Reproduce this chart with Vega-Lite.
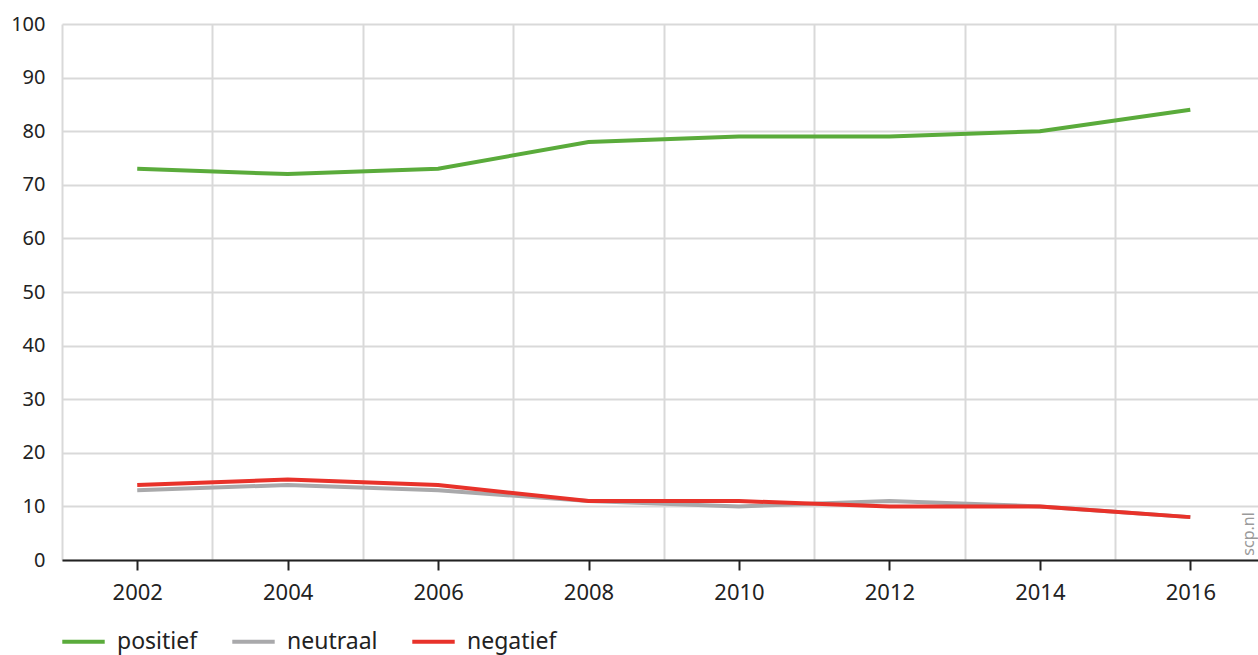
{
  "$schema": "https://vega.github.io/schema/vega-lite/v6.json",
  "width": 1196,
  "height": 536,
  "autosize": {"type": "none"},
  "padding": {"left": 62, "top": 24, "right": 0, "bottom": 95},
  "background": "white",
  "config": {
    "view": {"stroke": null},
    "font": "Noto Sans",
    "axis": {"labelFont": "Noto Sans", "labelColor": "#222222", "labelFontSize": 20}
  },
  "datasets": {
    "main": [
      {"jaar": 2002, "reeks": "positief", "waarde": 73},
      {"jaar": 2004, "reeks": "positief", "waarde": 72},
      {"jaar": 2006, "reeks": "positief", "waarde": 73},
      {"jaar": 2008, "reeks": "positief", "waarde": 78},
      {"jaar": 2010, "reeks": "positief", "waarde": 79},
      {"jaar": 2012, "reeks": "positief", "waarde": 79},
      {"jaar": 2014, "reeks": "positief", "waarde": 80},
      {"jaar": 2016, "reeks": "positief", "waarde": 84},
      {"jaar": 2002, "reeks": "neutraal", "waarde": 13},
      {"jaar": 2004, "reeks": "neutraal", "waarde": 14},
      {"jaar": 2006, "reeks": "neutraal", "waarde": 13},
      {"jaar": 2008, "reeks": "neutraal", "waarde": 11},
      {"jaar": 2010, "reeks": "neutraal", "waarde": 10},
      {"jaar": 2012, "reeks": "neutraal", "waarde": 11},
      {"jaar": 2014, "reeks": "neutraal", "waarde": 10},
      {"jaar": 2016, "reeks": "neutraal", "waarde": 8},
      {"jaar": 2002, "reeks": "negatief", "waarde": 14},
      {"jaar": 2004, "reeks": "negatief", "waarde": 15},
      {"jaar": 2006, "reeks": "negatief", "waarde": 14},
      {"jaar": 2008, "reeks": "negatief", "waarde": 11},
      {"jaar": 2010, "reeks": "negatief", "waarde": 11},
      {"jaar": 2012, "reeks": "negatief", "waarde": 10},
      {"jaar": 2014, "reeks": "negatief", "waarde": 10},
      {"jaar": 2016, "reeks": "negatief", "waarde": 8}
    ],
    "bron": [{"jaar": 2016.78, "waarde": 0.8, "tekst": "scp.nl"}]
  },
  "layer": [
    {
      "data": {"name": "main"},
      "mark": {"type": "line", "strokeWidth": 4, "strokeCap": "butt"},
      "encoding": {
        "x": {
          "field": "jaar", "type": "quantitative",
          "scale": {"domain": [2001, 2016.9], "nice": false, "zero": false},
          "axis": {
            "title": null,
            "values": [2001, 2002, 2003, 2004, 2005, 2006, 2007, 2008, 2009, 2010, 2011, 2012, 2013, 2014, 2015, 2016, 2017],
            "format": "d",
            "labelExpr": "datum.value % 2 === 0 ? datum.label : ''",
            "grid": true,
            "gridColor": "#d9d9d9",
            "gridWidth": 2,
            "gridOpacity": {"condition": {"test": "datum.value % 2 === 1", "value": 1}, "value": 0},
            "tickOpacity": {"condition": {"test": "datum.value % 2 === 0", "value": 1}, "value": 0},
            "tickColor": "#222222",
            "tickWidth": 2,
            "tickSize": 10,
            "domainColor": "#222222",
            "domainWidth": 2,
            "labelPadding": 12,
            "labelFontSize": 22
          }
        },
        "y": {
          "field": "waarde", "type": "quantitative",
          "scale": {"domain": [0, 100], "nice": false},
          "axis": {
            "title": null,
            "values": [0, 10, 20, 30, 40, 50, 60, 70, 80, 90, 100],
            "grid": true,
            "gridColor": "#d9d9d9",
            "gridWidth": 2,
            "ticks": false,
            "domain": false,
            "labelPadding": 17,
            "labelFontSize": 20
          }
        },
        "color": {
          "field": "reeks", "type": "nominal",
          "scale": {"domain": ["positief", "neutraal", "negatief"], "range": ["#5aab3b", "#a9a9ab", "#e8322a"]},
          "legend": {
            "title": null,
            "orient": "none",
            "legendX": -2,
            "legendY": 594,
            "direction": "horizontal",
            "symbolType": "stroke",
            "symbolSize": 1800,
            "symbolStrokeWidth": 4,
            "labelFontSize": 23,
            "labelColor": "#222222",
            "labelFont": "Noto Sans",
            "columnPadding": 26,
            "labelOffset": 10
          }
        }
      }
    },
    {
      "data": {"name": "bron"},
      "mark": {"type": "text", "angle": 270, "align": "left", "baseline": "middle", "fontSize": 16, "color": "#9a9a9a", "font": "Noto Sans"},
      "encoding": {
        "x": {"field": "jaar", "type": "quantitative"},
        "y": {"field": "waarde", "type": "quantitative"},
        "text": {"field": "tekst"}
      }
    }
  ]
}
